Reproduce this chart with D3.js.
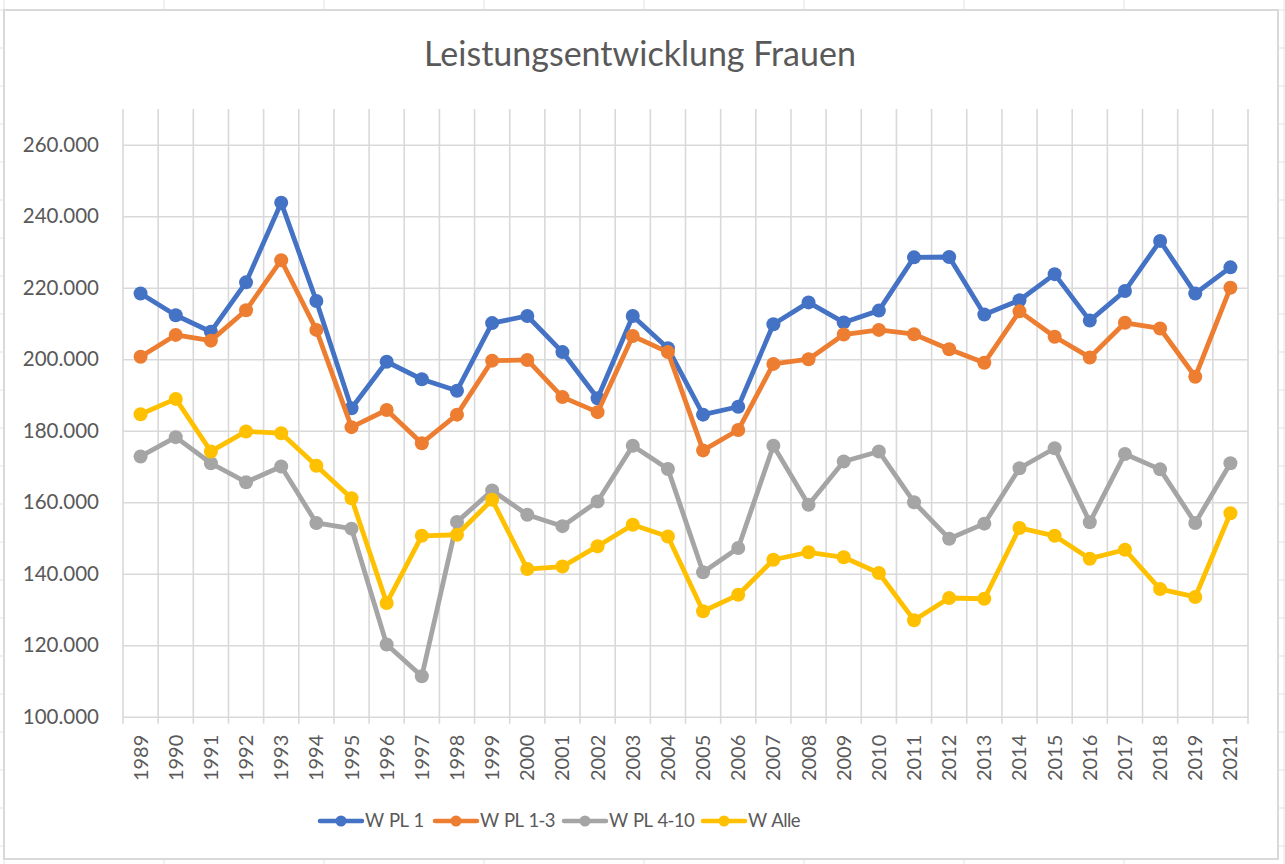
<!DOCTYPE html>
<html>
<head>
<meta charset="utf-8">
<script src="https://cdn.jsdelivr.net/npm/d3@7"></script>
<style>
  body { margin: 0; background: #ffffff; }
  svg { display: block; font-family: Lato, "Open Sans", sans-serif; }
</style>
</head>
<body>
<div id="canvas"></div>
<script>
// years on the category axis (2020 is missing in the source)
var years = ["1989","1990","1991","1992","1993","1994","1995","1996","1997","1998",
             "1999","2000","2001","2002","2003","2004","2005","2006","2007","2008",
             "2009","2010","2011","2012","2013","2014","2015","2016","2017","2018",
             "2019","2021"];

var wPl1   = [218400,212300,207700,221500,243800,216300,186300,199300,194400,191200,
              210100,212100,202000,189100,212100,203100,184500,186700,209800,215900,
              210300,213600,228500,228600,212500,216500,223800,210800,219100,233100,
              218400,225700];
var wPl13  = [200700,206800,205200,213700,227700,208200,181000,185800,176500,184500,
              199600,199800,189400,185200,206500,202000,174500,180200,198700,200000,
              206900,208200,207000,202800,199000,213400,206300,200500,210200,208600,
              195100,220000];
var wPl410 = [172800,178200,170900,165600,170000,154200,152600,120200,111300,154500,
              163300,156500,153300,160200,175800,169300,140400,147200,175800,159300,
              171400,174200,160000,149800,154000,169500,175100,154400,173500,169200,
              154200,170900];
var wAlle  = [184600,188900,174200,179800,179300,170200,161100,131800,150600,150900,
              160700,141300,142000,147700,153700,150400,129500,134100,143900,146000,
              144600,140200,127000,133200,133000,152800,150600,144200,146700,135700,
              133500,156900];

var seriesNames = ["W PL 1", "W PL 1-3", "W PL 4-10", "W Alle"];
var seriesColors = ["#4472C4", "#ED7D31", "#A5A5A5", "#FFC000"];
var yTicks = [100000,120000,140000,160000,180000,200000,220000,240000,260000];

draw();

function draw(){
	var w = 1285, h = 864;
	var left = 123, right = 1248, top = 109, bottom = 716.7;
	var gridCol = "#d9d9d9", textCol = "#595959";

	var svg = d3.select("#canvas").append("svg")
				.attr("width", w)
				.attr("height", h);

	// spreadsheet cells behind the chart
	var bg = svg.append("g").attr("stroke", "#e3e3e3").attr("stroke-width", 1);
	d3.range(4, w + 1, 160).forEach(function(x){
		bg.append("line").attr("x1", x).attr("x2", x).attr("y1", 0).attr("y2", h);
	});
	d3.range(10, h + 1, 38).forEach(function(y){
		bg.append("line").attr("x1", 0).attr("x2", w).attr("y1", y).attr("y2", y);
	});

	// chart area
	svg.append("rect")
		.attr("x", 4).attr("y", 10)
		.attr("width", 1274).attr("height", 849)
		.attr("fill", "#ffffff")
		.attr("stroke", gridCol)
		.attr("stroke-width", 2);

	var seriesData = [wPl1, wPl13, wPl410, wAlle];

	var xScale = d3.scaleBand()
					.domain(years)
					.range([left, right]);
	var yScale = d3.scaleLinear()
					.domain([100000, 270000])
					.range([bottom, top]);

	var de = d3.formatLocale({decimal: ",", thousands: ".", grouping: [3], currency: ["", " €"]});
	var fmt = de.format(",.0f");

	// horizontal gridlines + y labels
	var yAxis = d3.axisLeft(yScale)
				.tickValues(yTicks)
				.tickSize(-(right - left))
				.tickPadding(24)
				.tickFormat(fmt);
	var gy = svg.append("g")
				.attr("transform", "translate(" + left + ",0)")
				.call(yAxis);
	gy.select(".domain").remove();
	gy.selectAll(".tick line").attr("stroke", gridCol).attr("stroke-width", 1.6);
	gy.selectAll(".tick text")
		.attr("fill", textCol)
		.style("font-size", "20.5px")
		.style("font-family", "Lato, sans-serif");

	// vertical gridlines between categories (with tick marks below the axis)
	var edges = years.map(function(d){ return xScale(d); }).concat([right]);
	svg.append("g").selectAll("line")
		.data(edges)
		.join("line")
		.attr("x1", function(d){ return d; })
		.attr("x2", function(d){ return d; })
		.attr("y1", top)
		.attr("y2", bottom + 7)
		.attr("stroke", gridCol)
		.attr("stroke-width", 1.6);

	// x labels, rotated
	svg.append("g").selectAll("text")
		.data(years)
		.join("text")
		.attr("transform", function(d){
			return "translate(" + (xScale(d) + xScale.bandwidth() / 2 + 7) + "," + (bottom + 18) + ") rotate(-90)";
		})
		.attr("text-anchor", "end")
		.attr("fill", textCol)
		.style("font-size", "20px")
		.text(function(d){ return d; });

	// lines and markers
	var line = d3.line()
				.x(function(d, i){ return xScale(years[i]) + xScale.bandwidth() / 2; })
				.y(function(d){ return yScale(d); });

	seriesData.forEach(function(vals, k){
		var g = svg.append("g");
		g.append("path")
			.attr("d", line(vals))
			.attr("fill", "none")
			.attr("stroke", seriesColors[k])
			.attr("stroke-width", 4.8)
			.attr("stroke-linejoin", "round");
		g.selectAll("circle")
			.data(vals)
			.join("circle")
			.attr("cx", function(d, i){ return xScale(years[i]) + xScale.bandwidth() / 2; })
			.attr("cy", function(d){ return yScale(d); })
			.attr("r", 7)
			.attr("fill", seriesColors[k]);
	});

	// title
	svg.append("text")
		.attr("x", 640)
		.attr("y", 66)
		.attr("text-anchor", "middle")
		.attr("fill", textCol)
		.style("font-size", "34px")
		.text("Leistungsentwicklung Frauen");

	// legend
	var legX = [320, 435, 564, 703];
	var leg = svg.append("g").selectAll("g")
				.data(seriesNames)
				.join("g")
				.attr("transform", function(d, i){ return "translate(" + legX[i] + ",821)"; });
	leg.append("line")
		.attr("x1", 0).attr("x2", 42)
		.attr("stroke", function(d, i){ return seriesColors[i]; })
		.attr("stroke-width", 4.5)
		.attr("stroke-linecap", "round");
	leg.append("circle")
		.attr("cx", 21).attr("r", 5.5)
		.attr("fill", function(d, i){ return seriesColors[i]; });
	leg.append("text")
		.attr("x", 45)
		.attr("dy", "0.35em")
		.attr("fill", textCol)
		.style("font-size", "18.5px")
		.style("letter-spacing", "-0.6px")
		.style("word-spacing", "1.5px")
		.text(function(d){ return d; });
}
</script>
</body>
</html>
